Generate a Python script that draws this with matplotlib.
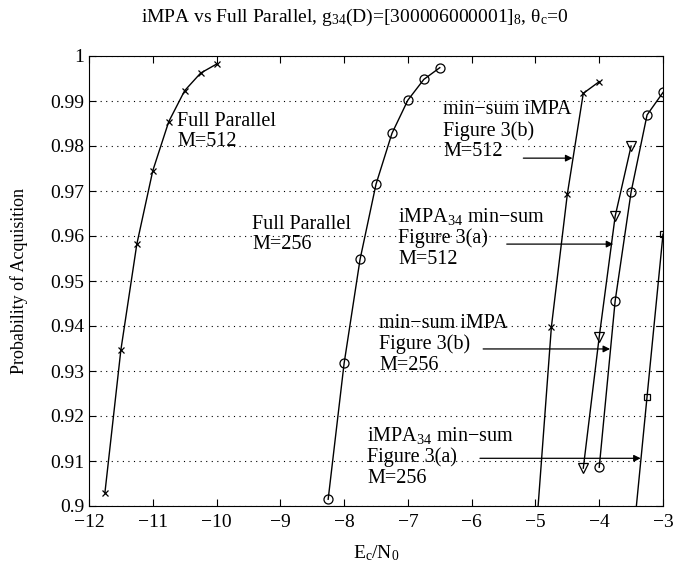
import matplotlib
matplotlib.use("Agg")
import matplotlib.pyplot as plt

plt.rcParams['font.family'] = ['Liberation Serif', 'DejaVu Serif']
plt.rcParams['mathtext.fontset'] = 'custom'
plt.rcParams['mathtext.rm'] = 'Liberation Serif'
plt.rcParams['mathtext.it'] = 'Liberation Serif:italic'
plt.rcParams['mathtext.bf'] = 'Liberation Serif:bold'

# Full Parallel M=512 (x markers)
fp512_x = [-10.0, -10.25, -10.5, -10.75, -11.0, -11.25, -11.5, -11.75]
fp512_y = [0.9982, 0.9962, 0.9923, 0.9854, 0.9745, 0.9582, 0.9347, 0.9030]
# Full Parallel M=256 (circles)
fp256_x = [-6.5, -6.75, -7.0, -7.25, -7.5, -7.75, -8.0, -8.25]
fp256_y = [0.9974, 0.9948, 0.9902, 0.9828, 0.9715, 0.9548, 0.9317, 0.9015]
# min-sum iMPA Figure 3(b) M=512 (x markers)
ms512_x = [-4.0, -4.25, -4.5, -4.75, -5.0]
ms512_y = [0.9943, 0.9917, 0.9693, 0.9398, 0.892]
# iMPA34 min-sum Figure 3(a) M=512 (down triangles)
i34_512_x = [-3.5, -3.75, -4.0, -4.25]
i34_512_y = [0.9800, 0.9644, 0.9376, 0.9084]
# min-sum iMPA Figure 3(b) M=256 (circles)
ms256_x = [-3.0, -3.25, -3.5, -3.75, -4.0]
ms256_y = [0.9919, 0.9869, 0.9698, 0.9456, 0.9086]
# iMPA34 min-sum Figure 3(a) M=256 (squares)
i34_256_x = [-3.0, -3.25, -3.5]
i34_256_y = [0.9604, 0.9243, 0.888]

xticks = [-12, -11, -10, -9, -8, -7, -6, -5, -4, -3]
yticks = [0.9, 0.91, 0.92, 0.93, 0.94, 0.95, 0.96, 0.97, 0.98, 0.99, 1.0]
ytick_labels = ['0.9', '0.91', '0.92', '0.93', '0.94', '0.95', '0.96', '0.97', '0.98', '0.99', '1']

fig = plt.figure(figsize=(6.82, 5.72), dpi=100)
ax = fig.add_axes([89/682, 66/572, (663-89)/682, 450/572])

lw = 1.0
ax.plot(fp512_x, fp512_y, 'k-', marker='x', ms=5, mew=0.9, lw=lw)
ax.plot(fp256_x, fp256_y, 'k-', marker='o', ms=6.5, mfc='none', mew=0.9, lw=lw)
ax.plot(ms512_x, ms512_y, 'k-', marker='x', ms=5, mew=0.9, lw=lw)
ax.plot(i34_512_x, i34_512_y, 'k-', marker='v', ms=6.5, mfc='none', mew=0.9, lw=lw)
ax.plot(ms256_x, ms256_y, 'k-', marker='o', ms=6.5, mfc='none', mew=0.9, lw=lw)
ax.plot(i34_256_x, i34_256_y, 'k-', marker='s', ms=5, mfc='none', mew=0.9, lw=lw)

ax.set_xlim(-12, -3)
ax.set_ylim(0.9, 1.0)
ax.set_xticks(xticks)
ax.set_yticks(yticks)
ax.set_yticklabels(ytick_labels)
ax.tick_params(direction='in', top=True, right=True, labelsize=14, length=5, width=0.8)
ax.tick_params(axis='x', pad=6)
ax.yaxis.grid(True, linestyle=(0, (1, 4)), color='k', lw=0.8)
for s in ax.spines.values():
    s.set_linewidth(0.8)

ax.set_xlabel(r'E$_\mathrm{c}$/N$_0$', fontsize=14)
ax.xaxis.set_label_coords(0.5, -0.083)
ax.set_ylabel('Probability of Acquisition', fontsize=13)
ax.yaxis.set_label_coords(-0.107, 0.5)
fig.text(355/682, 1 - 17/572,
         r'iMPA vs Full Parallel, g$_{34}$(D)=[300006000001]$_{8}$, θ$_\mathrm{c}$=0',
         fontsize=14, ha='center', va='center')

fs = 14.5
ls = 1.1
ax.text(-10.62, 0.9832, 'Full Parallel\nM=512', fontsize=fs, va='center', ha='left', linespacing=ls)
ax.text(-9.44, 0.9603, 'Full Parallel\nM=256', fontsize=fs, va='center', ha='left', linespacing=ls)
ax.text(-6.45, 0.9834, 'min−sum iMPA\nFigure 3(b)\nM=512', fontsize=fs, va='center', ha='left', linespacing=ls)
ax.text(-7.15, 0.9597, r'iMPA$_{34}$ min−sum' + '\nFigure 3(a)\nM=512', fontsize=fs, va='center', ha='left', linespacing=ls)
ax.text(-7.45, 0.9359, 'min−sum iMPA\nFigure 3(b)\nM=256', fontsize=fs, va='center', ha='left', linespacing=ls)
ax.text(-7.64, 0.9110, r'iMPA$_{34}$ min−sum' + '\nFigure 3(a)\nM=256', fontsize=fs, va='center', ha='left', linespacing=ls)

arrows = [((-5.19, 0.9773), (-4.42, 0.9773)),
          ((-5.45, 0.9582), (-3.78, 0.9582)),
          ((-5.82, 0.9349), (-3.83, 0.9349)),
          ((-5.87, 0.9106), (-3.35, 0.9106))]
for (x0, y0), (x1, y1) in arrows:
    ax.annotate('', xy=(x1, y1), xytext=(x0, y0),
                arrowprops=dict(arrowstyle='-|>', color='k', lw=0.9, mutation_scale=10, shrinkA=0, shrinkB=0))

fig.savefig('out.png', dpi=100)
